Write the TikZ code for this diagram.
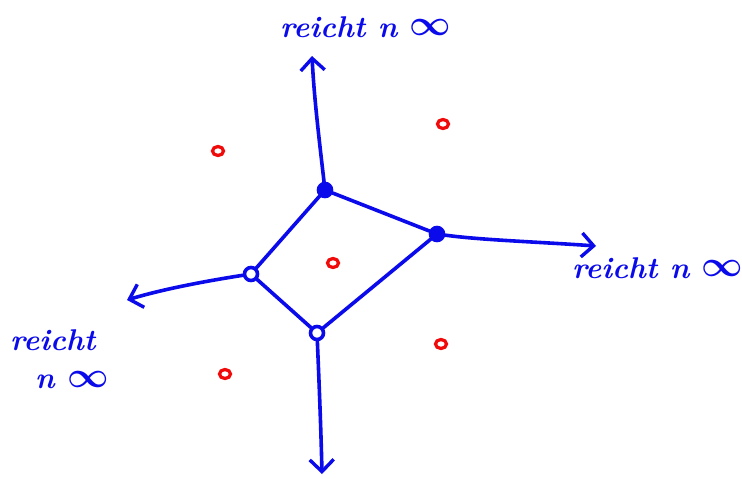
\documentclass[tikz,border=0pt]{standalone}
\usepackage{amsmath}
\usepackage{graphicx}
\usetikzlibrary{arrows.meta,shapes.geometric}
\definecolor{pen}{RGB}{10,10,235}
\definecolor{site}{RGB}{240,10,10}
\newcommand{\bigInf}{\raisebox{0.05em}{\scalebox{1.45}{$\infty$}}}
\begin{document}
\begin{tikzpicture}[x=1pt,y=-1pt,
  edge/.style={draw=pen,line width=3.6pt,line cap=round,line join=round},
  ray/.style={edge,-{Straight Barb[length=12pt,width=24pt,line width=3.4pt]}},
  vtx/.style={circle,draw=pen,line width=3.6pt,inner sep=0pt,minimum size=13pt},
  vtxf/.style={vtx,fill=pen},
  sitept/.style={ellipse,draw=site,line width=3.2pt,inner sep=0pt,minimum width=11pt,minimum height=9pt},
  lbl/.style={text=pen,font=\fontsize{30}{30}\selectfont\itshape\bfseries\boldmath,inner sep=0pt}]
\useasboundingbox (0,0) rectangle (742,479);
% Voronoi vertices
\node[vtxf] (A) at (325,190) {};
\node[vtxf] (B) at (437,234) {};
\node[vtx]  (C) at (317,333) {};
\node[vtx]  (D) at (251,274) {};
% free ends of the rays
\coordinate (Ta) at (312,56);
\coordinate (Tb) at (596,246);
\coordinate (Tc) at (322,474);
\coordinate (Td) at (127,300);
% cell edges
\draw[edge] (A) -- (B);
\draw[edge] (B) -- (C);
\draw[edge] (C) -- (D);
\draw[edge] (D) -- (A);
% rays to infinity
\draw[ray] (A) .. controls (318,130) and (314,95) .. (Ta);
\draw[ray] (B) .. controls (480,240) and (540,242) .. (Tb);
\draw[ray] (C) .. controls (319,380) and (321,430) .. (Tc);
\draw[ray] (D) .. controls (200,282) and (160,290) .. (Td);
% sites
\node[sitept] (s1) at (218,151) {};
\node[sitept] (s2) at (443,124) {};
\node[sitept] (s3) at (333,263) {};
\node[sitept] (s4) at (441,344) {};
\node[sitept] (s5) at (225,374) {};
% labels
\node[lbl,anchor=west] (l1) at (280,27) {reicht n \bigInf};
\node[lbl,anchor=west] (l2) at (572,268) {reicht n \bigInf};
\node[lbl,anchor=west] (l3) at (10,340) {reicht};
\node[lbl,anchor=west] (l4) at (35,380) {n \bigInf};
\end{tikzpicture}
\end{document}
